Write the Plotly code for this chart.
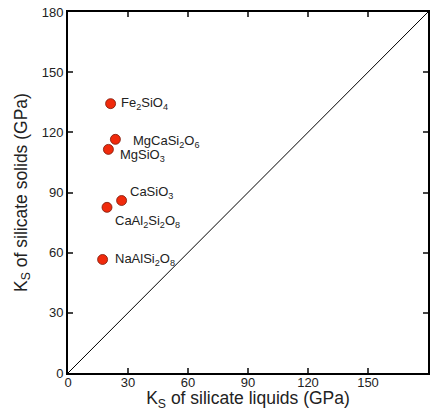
import plotly.graph_objects as go

minerals = ["Fe<sub>2</sub>SiO<sub>4</sub>", "MgCaSi<sub>2</sub>O<sub>6</sub>", "MgSiO<sub>3</sub>",
            "CaSiO<sub>3</sub>", "CaAl<sub>2</sub>Si<sub>2</sub>O<sub>8</sub>", "NaAlSi<sub>2</sub>O<sub>8</sub>"]
ks_liquid = [21.3, 23.7, 20.2, 26.8, 19.5, 17.3]
ks_solid = [134.3, 116.5, 111.5, 86.0, 82.6, 56.6]
label_dx = [8, 16, 10, 6, 6, 10]
label_dy = [0, -2, -6, 8, -14, 0]

ticks = [0, 30, 60, 90, 120, 150, 180]
font = "Liberation Sans, Arial, Helvetica, sans-serif"

fig = go.Figure()
fig.add_trace(go.Scatter(x=[0, 180], y=[0, 180], mode="lines",
                         line=dict(color="black", width=1), hoverinfo="skip"))
fig.add_trace(go.Scatter(x=ks_liquid, y=ks_solid, mode="markers",
                         marker=dict(size=10, color="#f02a0c", line=dict(color="#7a1a0a", width=0.8))))

for name, x, y, dx, dy in zip(minerals, ks_liquid, ks_solid, label_dx, label_dy):
    fig.add_annotation(x=x, y=y, text=name, showarrow=False, xanchor="left", yanchor="middle",
                       xshift=dx, yshift=dy, font=dict(size=13, color="#222"))

axis_common = dict(range=[0, 180], tickvals=ticks, ticks="inside", ticklen=5, tickwidth=1.5,
                   showline=True, linecolor="black", linewidth=2, mirror="ticks",
                   showgrid=False, zeroline=False, tickfont=dict(size=13, color="#222"),
                   fixedrange=True, automargin=False)
fig.update_xaxes(**axis_common, ticklabelstandoff=-4,
                 title=dict(text="K<sub>S</sub> of silicate liquids (GPa)",
                            font=dict(size=17.5, color="#222"), standoff=0))
fig.update_yaxes(**axis_common, ticklabelstandoff=0,
                 title=dict(text="K<sub>S</sub> of silicate solids (GPa)",
                            font=dict(size=17.5, color="#222"), standoff=10))
fig.update_layout(width=436, height=411, margin=dict(l=68, r=8, t=12, b=38),
                  plot_bgcolor="white", paper_bgcolor="white", showlegend=False,
                  font=dict(family=font))
fig.write_html("out.html", config={"displayModeBar": False},
               post_script="document.body.style.margin='0';")
